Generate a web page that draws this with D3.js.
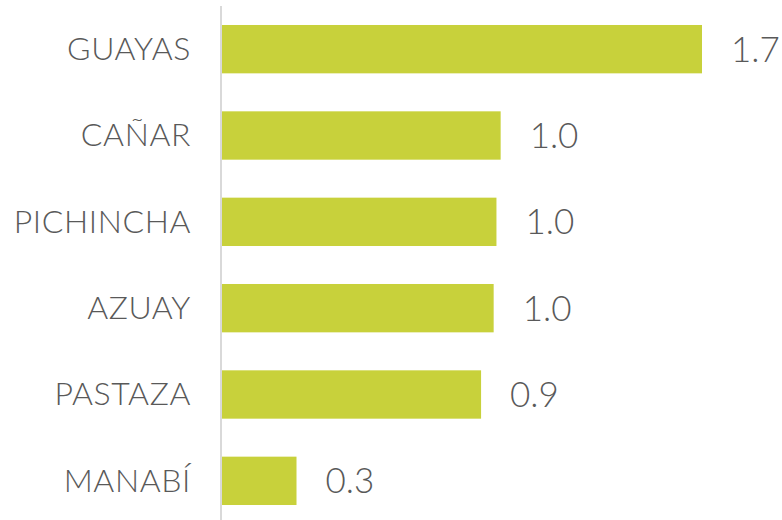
<!DOCTYPE html>
<html>
<head>
<meta charset="utf-8">
<script src="https://cdn.jsdelivr.net/npm/d3@7"></script>
<style>
  html, body { margin: 0; padding: 0; background: #fff; }
  svg text { font-family: Lato, "Open Sans", sans-serif; font-weight: 300; fill: #595959; }
</style>
</head>
<body>
<div id="chart"></div>
<script>
// Provinces and their values
const provinces = ['GUAYAS', 'CAÑAR', 'PICHINCHA', 'AZUAY', 'PASTAZA', 'MANABÍ'];
const values = [1.72, 1.0, 0.985, 0.975, 0.93, 0.27];

const data = provinces.map((p, i) => ({ name: p, value: values[i] }));

const width = 782;
const height = 520;
const left = 221;
const right = 702;

const svg = d3.select('#chart')
  .append('svg')
  .attr('width', width)
  .attr('height', height);

const x = d3.scaleLinear()
  .domain([0, d3.max(values)])
  .range([left, right]);

const y = d3.scaleBand()
  .domain(provinces)
  .range([6, 524])
  .paddingInner(0.44)
  .paddingOuter(0.22);

// bars
svg.selectAll('rect.bar')
  .data(data)
  .enter()
  .append('rect')
  .attr('class', 'bar')
  .attr('x', x(0))
  .attr('y', d => y(d.name))
  .attr('width', d => x(d.value) - x(0))
  .attr('height', y.bandwidth())
  .attr('fill', '#c8d13b');

// vertical axis line, no ticks
const yAxis = d3.axisLeft(y).tickSize(0).tickPadding(30);
const g = svg.append('g')
  .attr('transform', `translate(${x(0)},0)`)
  .call(yAxis);
g.select('.domain')
  .attr('d', `M0,6V${height}`)
  .attr('stroke', '#d9d9d9')
  .attr('stroke-width', 2);
g.selectAll('.tick text')
  .attr('font-size', 32)
  .attr('fill', '#595959')
  .attr('dy', '0.34em')
  .style('letter-spacing', '0.6px')
  .style('font-family', 'Lato, "Open Sans", sans-serif')
  .style('font-weight', 300);

// value labels
svg.selectAll('text.val')
  .data(data)
  .enter()
  .append('text')
  .attr('class', 'val')
  .attr('x', d => x(d.value) + 29)
  .attr('y', d => y(d.name) + y.bandwidth() / 2)
  .attr('dy', '0.36em')
  .attr('font-size', 35)
  .text(d => d3.format('.1f')(d.value));
</script>
</body>
</html>
